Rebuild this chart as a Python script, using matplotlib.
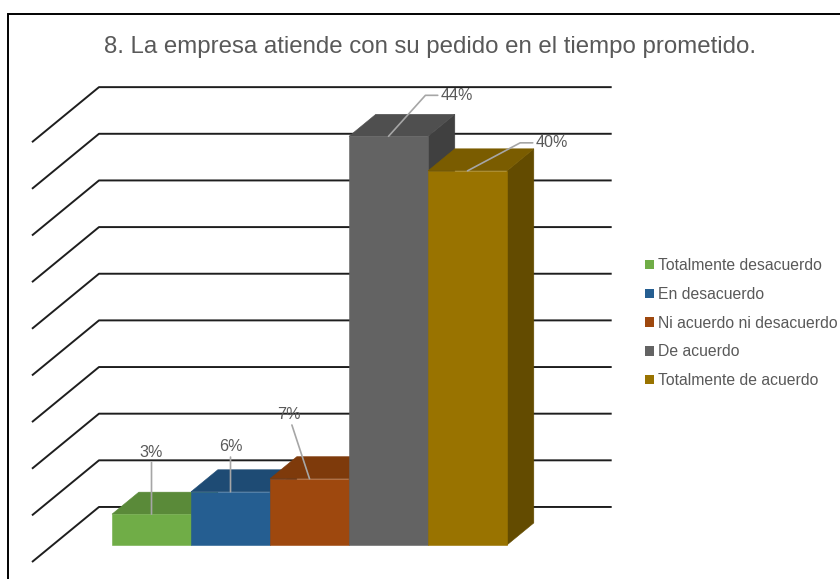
import numpy as np
import matplotlib
matplotlib.use('Agg')
import matplotlib.pyplot as plt
from matplotlib.patches import Polygon, Patch, Rectangle
from matplotlib.colors import to_rgb

plt.rcParams['font.family'] = ['Liberation Sans', 'DejaVu Sans']

# Data
categories = ['Totalmente desacuerdo', 'En desacuerdo', 'Ni acuerdo ni desacuerdo',
              'De acuerdo', 'Totalmente de acuerdo']
values = [3.3, 5.7, 7.1, 43.8, 40.1]
labels = ['3%', '6%', '7%', '44%', '40%']
colors = ['#70AD47', '#255E91', '#9E480E', '#636363', '#997300']
grid_levels = np.arange(0, 50, 5)
title = '8. La empresa atiende con su pedido en el tiempo prometido.'

# fake 3D projection (x in category units, y in percent, z = depth 0 back .. 1 front)
DX, DY = 0.848, 5.9
Z_FRONT, Z_BACK = 0.69, 0.29
WALL_L, WALL_R = -1.25, 5.24


def proj(x, v, z):
    return x - z * DX, v - z * DY


def shade(c, f):
    return tuple(np.array(to_rgb(c)) * f)


fig = plt.figure(figsize=(8.4, 5.79), dpi=100)
ax = fig.add_axes([0, 0, 1, 1])
ax.set_xlim(-2.503, 8.13)
ax.set_ylim(-7.72, 54.34)
ax.axis('off')

# outer frame
fig.patches.append(Rectangle((8 / 840, -0.05), 1.0, 1 - 14 / 579 + 0.05,
                             transform=fig.transFigure, fill=False,
                             edgecolor='black', lw=1.4))

# gridlines: side wall + back wall
for g in grid_levels:
    pts = [proj(WALL_L, g, 1), proj(WALL_L, g, 0), proj(WALL_R, g, 0)]
    ax.plot([p[0] for p in pts], [p[1] for p in pts], color='#1e1e1e', lw=1.4,
            zorder=1, solid_capstyle='butt')

# bars
for i, (v, c) in enumerate(zip(values, colors)):
    x0, x1 = i - 0.5, i + 0.5
    side = [proj(x1, 0, Z_FRONT), proj(x1, v, Z_FRONT), proj(x1, v, Z_BACK), proj(x1, 0, Z_BACK)]
    top = [proj(x0, v, Z_FRONT), proj(x1, v, Z_FRONT), proj(x1, v, Z_BACK), proj(x0, v, Z_BACK)]
    ax.add_patch(Polygon(side, closed=True, facecolor=shade(c, 0.65),
                         edgecolor=shade(c, 0.65), lw=0.4, zorder=2 + i))
    ax.add_patch(Polygon(top, closed=True, facecolor=shade(c, 0.8),
                         edgecolor=shade(c, 0.8), lw=0.4, zorder=2 + i + 0.1))
    fx, fy = proj(i, 0, Z_FRONT)
    ax.bar(fx, v, width=1, bottom=fy, color=c, edgecolor=c, lw=0.4, zorder=2 + i + 0.2)

# data labels with leader lines
offsets = [(0, 62), (0, 45), (-21, 64), (52, 41), (68, 28)]
aligns = ['center', 'center', 'center', 'left', 'left']
conns = ['arc3', 'arc3', 'arc3', 'angle,angleA=0,angleB=48,rad=0',
         'angle,angleA=0,angleB=28,rad=0']
for i, (v, lab) in enumerate(zip(values, labels)):
    ax.annotate(lab, xy=proj(i, v, Z_FRONT), xytext=offsets[i],
                textcoords='offset pixels', ha=aligns[i], va='center',
                fontsize=11.6, color='#595959', zorder=10,
                arrowprops=dict(arrowstyle='-', color='#A6A6A6', lw=1.2,
                                connectionstyle=conns[i], shrinkA=0, shrinkB=0))

fig.text(430 / 840, 1 - 47 / 579, title, ha='center', va='center',
         fontsize=17.3, color='#595959')

handles = [Patch(facecolor=c, edgecolor='none') for c in colors]
fig.legend(handles, categories, loc='upper left', bbox_to_anchor=(645 / 840, 1 - 258 / 579),
           frameon=False, fontsize=11.3, labelcolor='#595959', handlelength=0.55,
           handleheight=0.55, handletextpad=0.3, labelspacing=0.88, borderpad=0,
           borderaxespad=0)

fig.savefig('out.png', dpi=100)
